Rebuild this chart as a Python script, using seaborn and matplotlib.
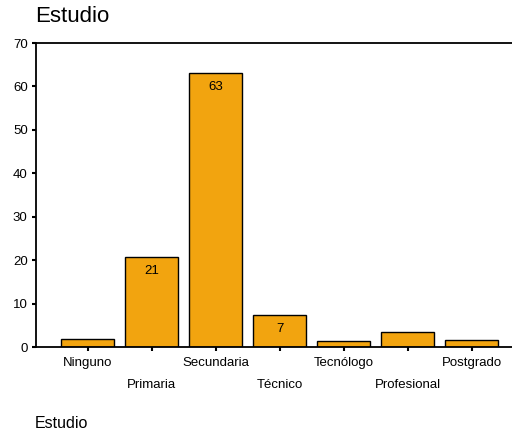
import matplotlib
matplotlib.use("Agg")
import matplotlib.pyplot as plt
import seaborn as sns
import pandas as pd

categories = ["Ninguno", "Primaria", "Secundaria", "Técnico", "Tecnólogo", "Profesional", "Postgrado"]
values = [1.8, 20.8, 63.1, 7.4, 1.3, 3.5, 1.5]
bar_labels = ["", "21", "63", "7", "", "", ""]
yticks = [0, 10, 20, 30, 40, 50, 60, 70]

sns.set_style("white")
plt.rcParams['font.family'] = ['Liberation Sans', 'DejaVu Sans']
plt.rcParams['text.color'] = 'black'

fig = plt.figure(figsize=(5.12, 4.33), dpi=100)
ax = fig.add_axes([36/512, 1-347/433, 1-36/512, (347-43)/433])

df = pd.DataFrame({"cat": categories, "val": values})
sns.barplot(data=df, x="cat", y="val", color="#F2A40F", saturation=1,
            width=0.83, edgecolor="black", linewidth=1, ax=ax)

for i, (v, lab) in enumerate(zip(values, bar_labels)):
    if lab:
        ax.annotate(lab, xy=(i, v), xytext=(0, -10), textcoords="offset points",
                    ha="center", va="center", fontsize=9.5, color="black")

ax.set_xlim(-0.805, 6.63)
ax.set_ylim(0, 70)
ax.set_yticks(yticks)
ax.set_yticklabels([str(t) for t in yticks], fontsize=9.5)
ax.set_xticks(range(len(categories)))
ax.set_xticklabels(categories, fontsize=9.5)
ax.tick_params(axis="both", direction="out", length=3, width=1.5, color="black",
               bottom=True, left=True, labelcolor="black")
ax.tick_params(axis="y", pad=3)
for i, t in enumerate(ax.xaxis.get_major_ticks()):
    t.set_pad(4 if i % 2 == 0 else 20)

ax.set_xlabel("")
ax.set_ylabel("")
for s in ["left", "top", "bottom"]:
    ax.spines[s].set_visible(True)
    ax.spines[s].set_color("black")
    ax.spines[s].set_linewidth(1.3)
ax.spines["right"].set_visible(False)
ax.grid(False)

fig.text(35/512, 1-17/433, "Estudio", fontsize=16, ha="left", va="center", color="black")
fig.text(35/512, 1-423/433, "Estudio", fontsize=11.5, ha="left", va="center", color="black")

fig.savefig("out.png", dpi=100)
